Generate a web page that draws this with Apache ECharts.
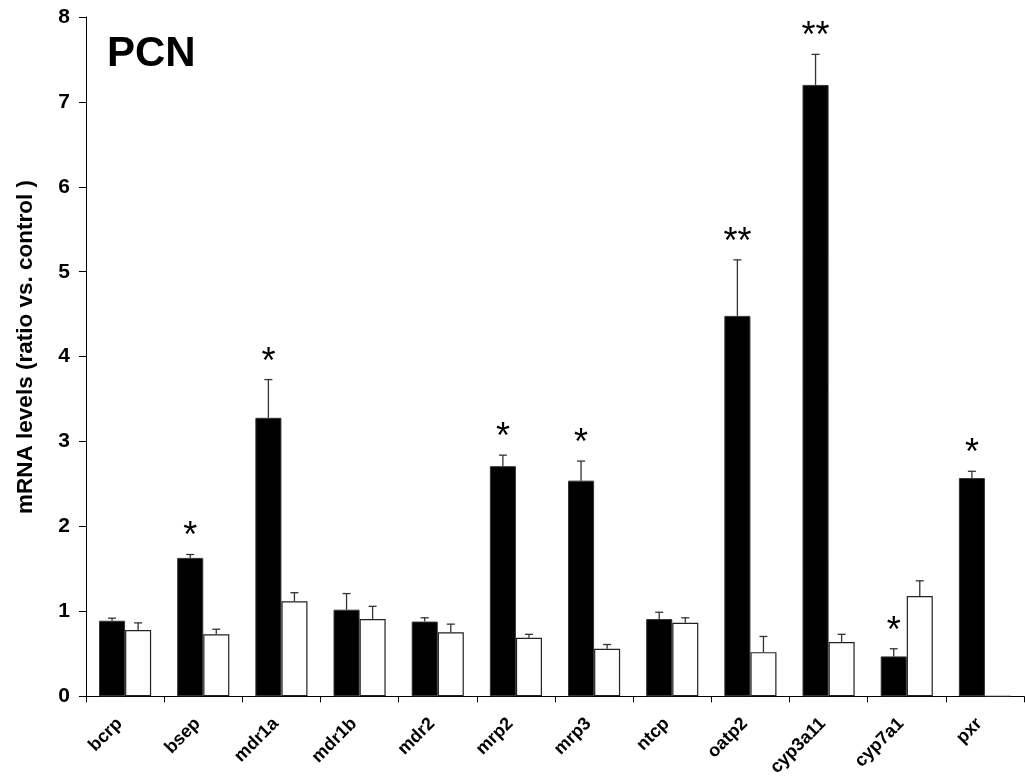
<!DOCTYPE html>
<html>
<head>
<meta charset="utf-8">
<script src="https://cdn.jsdelivr.net/npm/echarts@6/dist/echarts.min.js"></script>
<style>
html,body{margin:0;padding:0;background:#fff;}
#chart{width:1025px;height:779px;}
</style>
</head>
<body>
<div id="chart"></div>
<script>
var categories = ['bcrp','bsep','mdr1a','mdr1b','mdr2','mrp2','mrp3','ntcp','oatp2','cyp3a11','cyp7a1','pxr'];
var pcnValues  = [0.89, 1.63, 3.28, 1.02, 0.88, 2.71, 2.54, 0.91, 4.48, 7.20, 0.47, 2.57];
var pcnErrors  = [0.03, 0.04, 0.45, 0.19, 0.045, 0.13, 0.23, 0.08, 0.66, 0.36, 0.09, 0.08];
var ctrlValues = [0.78, 0.73, 1.12, 0.91, 0.755, 0.69, 0.56, 0.865, 0.52, 0.64, 1.18, 0];
var ctrlErrors = [0.085, 0.06, 0.10, 0.15, 0.095, 0.04, 0.05, 0.06, 0.185, 0.09, 0.18, 0];
var significance = ['', '*', '*', '', '', '*', '*', '', '**', '**', '*', '*'];
var yTicks = [0, 1, 2, 3, 4, 5, 6, 7, 8];

var FONT = '"Liberation Sans", Arial, sans-serif';
var GAP = 1/3;

function errData(vals, errs) {
  return vals.map(function (v, i) { return [i, v, errs[i]]; });
}

function makeErrRender(side) {
  return function (params, api) {
    var idx = api.value(0);
    var v = api.value(1);
    var e = api.value(2);
    var s = params.dataIndex;
    var band = api.size([1, 0])[0];
    var bw = band * (1 - GAP) / 2;
    var base = api.coord([idx, v]);
    var top = api.coord([idx, v + e]);
    var x = base[0] + side * bw / 2;
    var children = [];
    if (e > 0) {
      children.push({ type: 'line', shape: { x1: x, y1: base[1], x2: x, y2: top[1] },
        style: { stroke: '#333', lineWidth: 1.3 } });
      children.push({ type: 'line', shape: { x1: x - 4, y1: top[1], x2: x + 4, y2: top[1] },
        style: { stroke: '#333', lineWidth: 1.3 } });
    }
    var sigText = side < 0 ? significance[s] : '';
    if (sigText) {
      children.push({ type: 'text', style: { text: sigText, x: x, y: top[1] - 17,
        align: 'center', verticalAlign: 'middle', fontSize: 36, fontFamily: FONT, fill: '#000' } });
    }
    return { type: 'group', children: children };
  };
}

var chart = echarts.init(document.getElementById('chart'), null, { renderer: 'canvas' });
chart.setOption({
  animation: false,
  backgroundColor: '#fff',
  title: {
    text: 'PCN', left: 107, top: 33, padding: 0,
    textStyle: { fontSize: 42, fontWeight: 'bold', fontFamily: FONT, color: '#000' }
  },
  graphic: [{
    type: 'text', x: 26, y: 347, rotation: Math.PI / 2,
    style: { text: 'mRNA levels (ratio vs. control )', align: 'center', verticalAlign: 'middle',
      fontSize: 22.5, fontWeight: 'bold', fontFamily: FONT, fill: '#000' }
  }],
  grid: { left: 86, right: 1, top: 17, bottom: 81, containLabel: false },
  xAxis: {
    type: 'category',
    data: categories,
    axisLine: { lineStyle: { color: '#000', width: 1 } },
    axisTick: { show: true, alignWithLabel: false, length: 6, lineStyle: { color: '#000' } },
    axisLabel: {
      rotate: 45, margin: 19, padding: [0, 8, 0, 0], interval: 0,
      fontSize: 18, fontWeight: 'bold', fontFamily: FONT, color: '#000'
    },
    splitLine: { show: false }
  },
  yAxis: {
    type: 'value', min: yTicks[0], max: yTicks[yTicks.length - 1], interval: 1,
    axisLine: { show: true, lineStyle: { color: '#000', width: 1 } },
    axisTick: { show: true, length: 7, lineStyle: { color: '#000' } },
    axisLabel: { margin: 16, fontSize: 21, fontWeight: 'bold', fontFamily: FONT, color: '#000' },
    splitLine: { show: false }
  },
  series: [
    {
      name: 'PCN', type: 'bar', data: pcnValues,
      barGap: '0%', barCategoryGap: '33.33%',
      itemStyle: { color: '#000', borderColor: '#333', borderWidth: 1 }
    },
    {
      name: 'control', type: 'bar', data: ctrlValues,
      barGap: '0%', barCategoryGap: '33.33%',
      itemStyle: { color: '#fff', borderColor: '#222', borderWidth: 1.2 }
    },
    {
      type: 'custom', name: 'PCN err', data: errData(pcnValues, pcnErrors),
      encode: { x: 0, y: 1 }, renderItem: makeErrRender(-1), z: 5, clip: false
    },
    {
      type: 'custom', name: 'control err', data: errData(ctrlValues, ctrlErrors),
      encode: { x: 0, y: 1 }, renderItem: makeErrRender(1), z: 5, clip: false
    }
  ]
});
</script>
</body>
</html>
